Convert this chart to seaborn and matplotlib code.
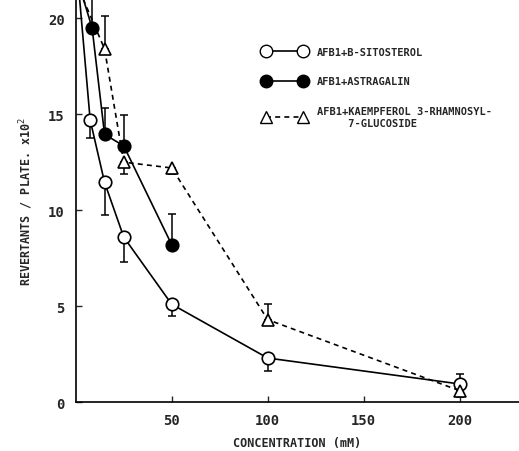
import numpy as np
import pandas as pd
import seaborn as sns
import matplotlib.pyplot as plt
from matplotlib.lines import Line2D

# concentrations (mM) and revertants / plate (x10^2)
conc_sito = [0, 7.5, 15, 25, 50, 100, 200]
rev_sito = [23.3, 14.7, 11.45, 8.6, 5.1, 2.3, 0.95]
err_sito_lo = [0, 0.95, 1.7, 1.3, 0.6, 0.7, 0]
err_sito_hi = [0, 0, 0, 0, 0, 0, 0.5]

conc_astr = [0, 8.5, 15, 25, 50]
rev_astr = [22.3, 19.5, 13.95, 13.35, 8.2]
err_astr_lo = [0, 0, 0, 0, 0]
err_astr_hi = [0, 2.0, 1.35, 1.6, 1.6]

conc_kaem = [0, 15, 25, 50, 100, 200]
rev_kaem = [21.9, 18.4, 12.5, 12.2, 4.3, 0.6]
err_kaem_lo = [0, 0, 0.6, 0.3, 0, 0.35]
err_kaem_hi = [0, 1.7, 0, 0, 0.8, 0]

labels = ["AFB1+B-SITOSTEROL", "AFB1+ASTRAGALIN",
          "AFB1+KAEMPFEROL 3-RHAMNOSYL-\n     7-GLUCOSIDE"]

sns.set_style("ticks")
plt.rcParams['font.family'] = ['DejaVu Sans Mono', 'DejaVu Sans']

fig = plt.figure(figsize=(5.19, 4.52), dpi=100)
ax = fig.add_axes([0.146, 0.108, 0.854, 0.892])

dash = (0, (3, 2.5))
series = [
    (conc_sito, rev_sito, err_sito_lo, err_sito_hi, 'o', 'white', '-'),
    (conc_astr, rev_astr, err_astr_lo, err_astr_hi, 'o', 'black', '-'),
    (conc_kaem, rev_kaem, err_kaem_lo, err_kaem_hi, '^', 'white', dash),
]

for x, y, lo, hi, mk, fc, ls in series:
    ax.errorbar(x, y, yerr=[lo, hi], fmt='none', ecolor='black',
                elinewidth=1.1, capsize=3, capthick=1.1, zorder=2)
    df = pd.DataFrame({'conc': x, 'rev': y})
    sns.lineplot(data=df, x='conc', y='rev', ax=ax, color='black',
                 linewidth=1.2, linestyle=ls, marker=mk, markersize=9 if mk == 'o' else 8.5,
                 markerfacecolor=fc, markeredgecolor='black', markeredgewidth=1.2,
                 zorder=3)

ax.set_xlim(0, 231)
ax.set_ylim(0, 21)
ax.set_xticks([50, 100, 150, 200])
ax.set_yticks([0, 5, 10, 15, 20])
ax.tick_params(direction='in', length=4, width=1, labelsize=10, pad=8)
for lab in ax.get_xticklabels() + ax.get_yticklabels():
    lab.set_fontweight('bold')
sns.despine(ax=ax)
for sp in ['left', 'bottom']:
    ax.spines[sp].set_linewidth(1.2)
    ax.spines[sp].set_color('black')

ax.set_xlabel("CONCENTRATION (mM)", fontsize=8.5, fontweight='bold', labelpad=6)
ax.set_ylabel("REVERTANTS / PLATE. x10$^2$", fontsize=8.5, fontweight='bold', labelpad=9)

handles = [
    Line2D([], [], color='black', lw=1.2, marker='o', ms=9, mfc='white', mec='black'),
    Line2D([], [], color='black', lw=1.2, marker='o', ms=9, mfc='black', mec='black'),
    Line2D([], [], color='black', lw=1.2, ls=dash, marker='^', ms=8.5,
           mfc='white', mec='black'),
]
leg = ax.legend(handles, labels, loc='upper left', bbox_to_anchor=(0.4, 0.905),
                frameon=False, numpoints=2, handlelength=4.2, handletextpad=1.0,
                labelspacing=1.9, prop={'size': 7.5, 'weight': 'bold'})

fig.savefig("out.png", dpi=100)
